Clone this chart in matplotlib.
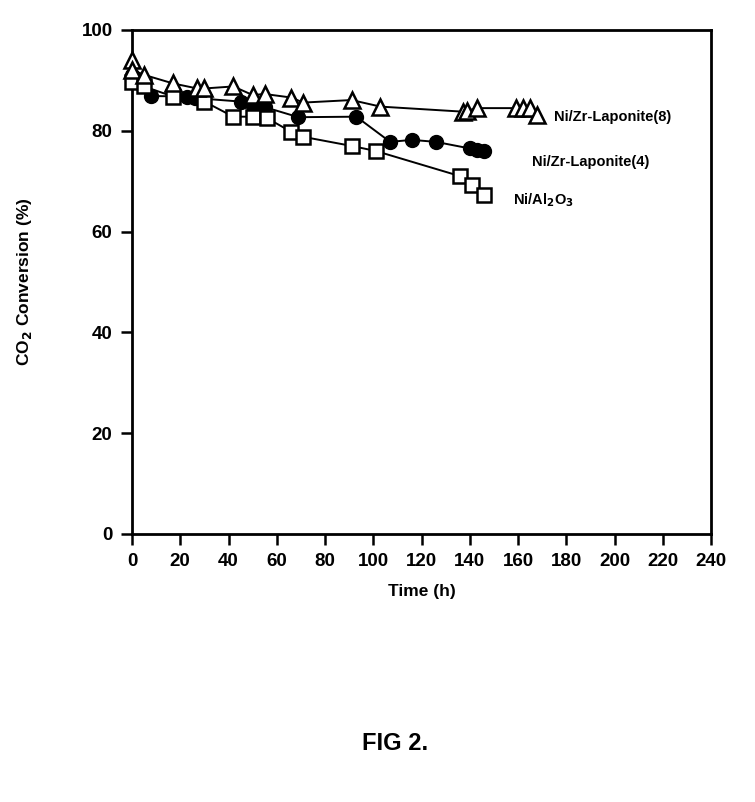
import matplotlib
matplotlib.use("Agg")
import matplotlib.pyplot as plt

plt.rcParams['font.family'] = ['Liberation Sans', 'DejaVu Sans']
plt.rcParams['mathtext.default'] = 'bf'

# Ni/Zr-Laponite(8) - open triangles
t8 = [0, 0, 5, 17, 27, 30, 42, 50, 55, 66, 71, 91, 103, 137, 139, 143, 159, 162, 165, 168]
c8 = [94.0, 92.1, 91.1, 89.4, 88.4, 88.4, 88.8, 87.1, 87.3, 86.6, 85.6, 86.1, 84.8, 83.8, 84.0, 84.5, 84.5, 84.5, 84.5, 83.1]

# Ni/Zr-Laponite(4) - filled circles
t4 = [0, 8, 23, 26, 45, 50, 55, 69, 93, 107, 116, 126, 140, 143, 146]
c4 = [91.0, 86.9, 86.8, 86.5, 85.8, 84.9, 84.7, 82.7, 82.8, 77.8, 78.2, 77.8, 76.5, 76.2, 75.9]

# Ni/Al2O3 - open squares
ta = [0, 5, 17, 30, 42, 50, 56, 66, 71, 91, 101, 136, 141, 146]
ca = [89.7, 88.8, 86.8, 85.8, 82.8, 82.8, 82.5, 79.8, 78.8, 77.0, 76.0, 71.0, 69.2, 67.3]

series_labels = ['Ni/Zr-Laponite(8)', 'Ni/Zr-Laponite(4)', 'Ni/Al$_2$O$_3$']
xticks = list(range(0, 241, 20))
yticks = list(range(0, 101, 20))

fig = plt.figure(figsize=(7.55, 8.02), dpi=100)
ax = fig.add_axes([132/755, 1-534/802, (711-132)/755, (534-30)/802])

ax.plot(t4, c4, '-', color='black', lw=1.4, marker='o', ms=10,
        mfc='black', mec='black', zorder=3, clip_on=False)
ax.plot(ta, ca, '-', color='black', lw=1.4, marker='s', ms=10.5,
        mfc='white', mec='black', mew=1.8, zorder=4, clip_on=False)
ax.plot(t8, c8, '-', color='black', lw=1.4, marker='^', ms=12,
        mfc='white', mec='black', mew=1.8, zorder=5, clip_on=False)

ax.set_xlim(0, 240)
ax.set_ylim(0, 100)
ax.set_xticks(xticks)
ax.set_yticks(yticks)
ax.tick_params(direction='out', length=8, width=1.8, labelsize=13.5, pad=6)
for lab in ax.get_xticklabels() + ax.get_yticklabels():
    lab.set_fontweight('bold')
for s in ax.spines.values():
    s.set_linewidth(2)
    s.set_zorder(2)

ax.set_xlabel('Time (h)', fontsize=12.5, fontweight='bold', labelpad=10)
ax.set_ylabel('CO$_2$ Conversion (%)', fontsize=12.5, fontweight='bold')
ax.yaxis.set_label_coords(-0.17, 0.5)

ax.text(175, 82.7, series_labels[0], fontsize=10.5, fontweight='bold', va='center', ha='left')
ax.text(166, 73.8, series_labels[1], fontsize=10.5, fontweight='bold', va='center', ha='left')
ax.text(158, 66.3, series_labels[2], fontsize=10.5, fontweight='bold', va='center', ha='left')

fig.text(395/755, 1-743/802, 'FIG 2.', fontsize=17, fontweight='bold', ha='center', va='center')

fig.savefig('out.png', dpi=100)
